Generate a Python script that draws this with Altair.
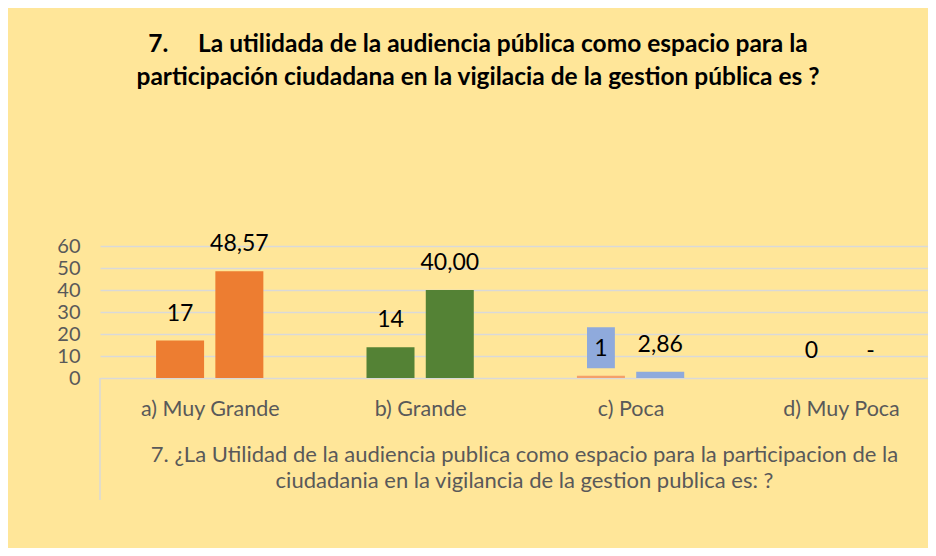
import altair as alt
import pandas as pd

# ---- data ----
categories = ["a) Muy Grande", "b) Grande", "c) Poca", "d) Muy Poca"]
counts = [17, 14, 1, 0]
percents = [48.57, 40.00, 2.86, 0]
count_labels = ["17", "14", "1", "0"]
percent_labels = ["48,57", "40,00", "2,86", "-"]

# ---- styles (kept apart from the data) ----
count_colors = ["#ED7D31", "#548235", "#F4A06A", "#ED7D31"]
percent_colors = ["#ED7D31", "#548235", "#8FAADC", "#8FAADC"]
boxed_label = [False, False, True, False]

rows = []
for i, cat in enumerate(categories):
    rows.append(dict(idx=i, cat=cat, series=0, value=counts[i], label=count_labels[i],
                     color=count_colors[i], boxed=int(boxed_label[i])))
    rows.append(dict(idx=i, cat=cat, series=1, value=percents[i], label=percent_labels[i],
                     color=percent_colors[i], boxed=0))
df = pd.DataFrame(rows)

W, H = 828, 132
step = 213.0
first = 106.0
x_min = -first / step
x_max = (W - first) / step
off = 30.0 / step

FONT = "Lato"
GRAY = "#595959"

label_js = "[" + ",".join("'" + c + "'" for c in categories) + "][datum.value]"

x = alt.X(
    "xpos:Q",
    scale=alt.Scale(domain=[x_min, x_max], nice=False, zero=False),
    axis=alt.Axis(
        values=[0, 1, 2, 3], labelExpr=label_js, grid=False, domain=False, ticks=False,
        labelFont=FONT, labelFontSize=21.5, labelColor=GRAY, labelPadding=20,
        title=["7. ¿La Utilidad de la audiencia publica como espacio para la participacion de la",
               "ciudadania en la vigilancia de la gestion publica es: ?"],
        titleFont=FONT, titleFontSize=22, titleFontWeight="normal", titleColor=GRAY,
        titleLineHeight=26, titleX=424, titleY=66, titleAlign="center", titleBaseline="top",
    ),
)
y = alt.Y(
    "value:Q",
    scale=alt.Scale(domain=[0, 60], nice=False),
    axis=alt.Axis(
        values=[0, 10, 20, 30, 40, 50, 60], title=None, domain=False, ticks=False,
        labelFont=FONT, labelFontSize=20, labelColor=GRAY, labelPadding=20,
        grid=True, gridColor="#D9D9D9", gridWidth=1.5,
    ),
)

base = alt.Chart(df).transform_calculate(
    xpos=f"datum.idx + (datum.series == 0 ? {-off} : {off})"
)

bars = base.mark_bar(size=48).encode(x=x, y=y, color=alt.Color("color:N", scale=None))

box = base.transform_filter("datum.boxed == 1").mark_point(
    shape="M-0.68,-1L0.68,-1L0.68,1L-0.68,1Z", size=1681, filled=True,
    fill="#8FAADC", opacity=1, yOffset=-28,
).encode(x=x, y=y)

text = base.mark_text(dy=-27, fontSize=23, font=FONT, color="black", baseline="middle").encode(
    x=x, y=y, text="label:N"
)

edge = alt.Chart(pd.DataFrame({"k": [0]})).mark_rule(color="#D9D9D9", strokeWidth=1.5).encode(
    x=alt.value(0), y=alt.value(H), y2=alt.value(H + 122)
)

chart = alt.layer(bars, box, text, edge).properties(
    width=W, height=H,
    title=alt.TitleParams(
        text=["7.\u00a0\u00a0\u00a0\u00a0 La utilidada de la audiencia pública como espacio para la",
              "participación ciudadana en la vigilacia de la gestion pública es ?"],
        font=FONT, fontSize=24.5, fontWeight="bold", color="black",
        anchor="middle", dx=-36, offset=143, lineHeight=33,
    ),
    background="#FFE699",
    padding={"left": 92, "top": 238, "right": 0, "bottom": 170},
    autosize="none",
).configure_view(stroke=None)

chart.save("out.html", embed_options={"renderer": "svg", "actions": False})
